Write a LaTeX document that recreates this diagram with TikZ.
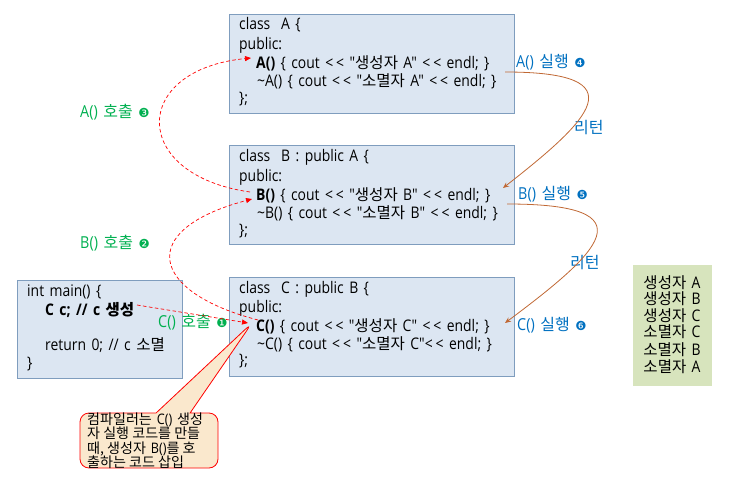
\documentclass[tikz,border=0pt]{standalone}
\usepackage{fontspec}
\setmainfont{Open Sans}
\newfontfamily\lat{Open Sans}[WordSpace=1.5, FakeStretch=0.87]
\newfontfamily\krf{Noto Sans CJK KR}[Scale=0.97]
\newfontfamily\dingfont{DejaVu Sans}
\usetikzlibrary{shapes.callouts,arrows.meta}
\definecolor{boxfill}{RGB}{220,230,242}
\definecolor{boxline}{RGB}{127,157,190}
\definecolor{resfill}{RGB}{215,228,189}
\definecolor{callfill}{RGB}{250,232,205}
\definecolor{grn}{RGB}{0,176,80}
\definecolor{blu}{RGB}{0,112,192}
\definecolor{brn}{RGB}{192,104,52}
\newcommand\kr[1]{{\krf #1}}
\newcommand\dg[1]{{\dingfont\fontsize{12.5}{13}\selectfont #1}}
\newcommand\shl{<\kern3pt<}
\begin{document}
\begin{tikzpicture}[x=1pt,y=-1pt,
  codebox/.style={draw=boxline, fill=boxfill, line width=0.8pt, inner sep=0, minimum width=285pt, minimum height=99pt},
  code/.style={anchor=west, inner sep=0, font=\lat\fontsize{16}{17}\selectfont},
  green lbl/.style={anchor=west, inner sep=0, text=grn, font=\lat\fontsize{16.5}{17}\selectfont},
  blue lbl/.style={anchor=west, inner sep=0, text=blu, font=\lat\fontsize{16.5}{17}\selectfont},
  callarrow/.style={red, dash pattern=on 3.5pt off 2.5pt, line width=0.7pt, -{Triangle[length=6pt,width=5pt]}},
  retarrow/.style={brn, line width=0.8pt, -{Stealth[length=6pt,width=5pt]}},
  res/.style={anchor=center, inner sep=0, font=\lat\fontsize{16}{16}\selectfont}
]
\useasboundingbox (0,0) rectangle (733,487);

% class boxes
\node[codebox] (boxA) at (371.5,63.5) {};
\node[codebox] (boxB) at (371.5,195) {};
\node[codebox] (boxC) at (371.5,326.5) {};
\node[draw=boxline, fill=boxfill, line width=0.8pt, inner sep=0, minimum width=165pt, minimum height=98pt] (boxM) at (99.5,329) {};
\node[fill=resfill, inner sep=0, minimum width=79pt, minimum height=121pt] (boxR) at (672.5,325.5) {};

% class A
\node[code] (a1) at (239,25) {class\ \ A \{};
\node[code] (a2) at (239,45) {public:};
\node[code] (a3) at (256,63.5) {\textbf{A()} \{ cout \shl{} "\kr{생성자} A" \shl{} endl; \}};
\node[code] (a4) at (257,81.5) {\textasciitilde A() \{ cout \shl{} "\kr{소멸자} A" \shl{} endl; \}};
\node[code] (a5) at (239,99) {\};};
% class B
\node[code] (b1) at (239,157) {class\ \ B : public A \{};
\node[code] (b2) at (239,177) {public:};
\node[code] (b3) at (256,195.5) {\textbf{B()} \{ cout \shl{} "\kr{생성자} B" \shl{} endl; \}};
\node[code] (b4) at (257,213.5) {\textasciitilde B() \{ cout \shl{} "\kr{소멸자} B" \shl{} endl; \}};
\node[code] (b5) at (239,231) {\};};
% class C
\node[code] (c1) at (239,289) {class\ \ C : public B \{};
\node[code] (c2) at (239,308) {public:};
\node[code] (c3) at (256,326) {\textbf{C()} \{ cout \shl{} "\kr{생성자} C" \shl{} endl; \}};
\node[code] (c4) at (257,344) {\textasciitilde C() \{ cout \shl{} "\kr{소멸자} C"\shl{} endl; \}};
\node[code] (c5) at (239,361) {\};};
% main
\node[code] (m1) at (27,292) {int main() \{};
\node[code] (m2) at (45,310) {\textbf{C c; // c \kr{생성}}};
\node[code] (m3) at (45,345) {return 0; // c \kr{소멸}};
\node[code] (m4) at (27,364) {\}};

% result list
\node[res] (r1) at (672,283) {\kr{생성자} A};
\node[res] (r2) at (672,299) {\kr{생성자} B};
\node[res] (r3) at (672,316) {\kr{생성자} C};
\node[res] (r4) at (672,332) {\kr{소멸자} C};
\node[res] (r5) at (672,350) {\kr{소멸자} B};
\node[res] (r6) at (672,367) {\kr{소멸자} A};

% labels
\node[green lbl] (l3) at (80,112) {A() \kr{호출} \dg{❸}};
\node[green lbl] (l2) at (80,243) {B() \kr{호출} \dg{❷}};
\node[green lbl] (l1) at (158,322) {C() \kr{호출} \dg{❶}};
\node[blue lbl] (l4) at (516,62) {A() \kr{실행} \dg{❹}};
\node[blue lbl] (l5) at (518,194) {B() \kr{실행} \dg{❺}};
\node[blue lbl] (l6) at (517,325) {C() \kr{실행} \dg{❻}};
\node[blue lbl] (rt1) at (574,128) {\kr{리턴}};
\node[blue lbl] (rt2) at (570,263) {\kr{리턴}};

% callout
\coordinate (tip) at (252,323);
\node[rectangle callout, callout absolute pointer={(tip)}, callout pointer width=34pt,
  draw=red, fill=callfill, line width=0.8pt, rounded corners=9pt,
  minimum width=138pt, minimum height=55pt, inner sep=0] (note) at (149,440.5) {};
\node[anchor=north west, inner sep=0, align=left,
  font=\lat\fontsize{14.5}{14.5}\selectfont] (noteText) at (87,412.5)
  {\kr{컴파일러는} C() \kr{생성}\\\kr{자 실행 코드를 만들}\\\kr{때, 생성자} B()\kr{를 호}\\\kr{출하는 코드 삽입}};

% call arrows
\coordinate (mEnd) at (137,305);
\coordinate (cIn) at (248,323);
\coordinate (cOut) at (258,320);
\coordinate (bIn) at (252,199);
\coordinate (bOut) at (250,192);
\coordinate (aIn) at (251,58);
\draw[callarrow] (mEnd) -- (cIn);
\draw[callarrow] (cOut) .. controls (150,292) and (135,230) .. (bIn);
\draw[callarrow] (bOut) .. controls (130,175) and (130,70) .. (aIn);

% return arrows
\coordinate (aRet) at (505,72);
\coordinate (bRetIn) at (503,188);
\coordinate (bRet) at (507,204);
\coordinate (cRetIn) at (505,323);
\draw[retarrow] (aRet) .. controls (640,72) and (590,120) .. (bRetIn);
\draw[retarrow] (bRet) .. controls (652,204) and (600,252) .. (cRetIn);
\end{tikzpicture}
\end{document}
